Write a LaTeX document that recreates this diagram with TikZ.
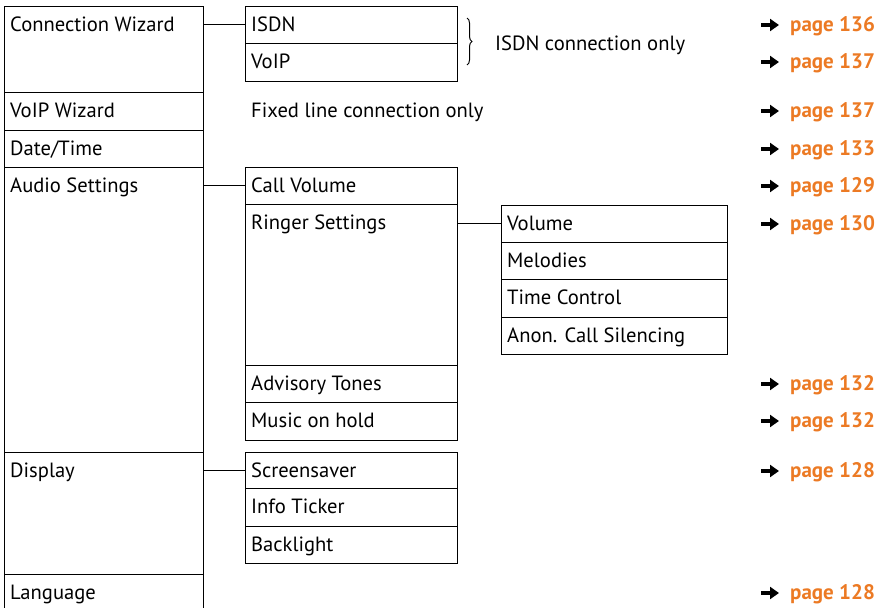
\documentclass[tikz,border=0pt]{standalone}
\usepackage{fontspec}
\setmainfont{PT Sans}
\usetikzlibrary{arrows.meta,decorations.pathreplacing,calc}
\definecolor{pageorange}{RGB}{236,122,36}
\newcommand\mcell[6]{%
  \node[box, minimum width=#4pt, minimum height=#5pt] (#1) at (#2,-#3) {};
  \node[txt] (#1-t) at ([xshift=6pt,yshift=-25pt]#1.north west) {#6};}
\newcommand\pref[3]{%
  \node[pg] (#1) at (790,0 |- #2-t.base) {page #3};
  \coordinate (#1-a) at ($(#1.base west)+(-29,6)$);
  \coordinate (#1-b) at ($(#1.base west)+(-11,6)$);
  \draw[refarrow] (#1-a) -- (#1-b);}
\begin{document}
\begin{tikzpicture}[x=1pt,y=1pt,
  box/.style={draw, line width=1pt, rectangle, inner sep=0pt, outer sep=0pt, anchor=north west},
  txt/.style={anchor=base west, inner sep=0pt, font=\fontsize{20.6}{24}\selectfont},
  pg/.style={anchor=base west, inner sep=0pt, text=pageorange, font=\fontsize{21}{24}\selectfont\bfseries},
  link/.style={line width=1pt},
  refarrow/.style={line width=4pt, -{Triangle[length=9pt,width=12pt]}}]
\useasboundingbox (0,0) rectangle (887,-608);
% main column
\mcell{cw}{4}{6}{199}{86}{Connection Wizard}
\mcell{vw}{4}{92}{199}{38}{VoIP Wizard}
\mcell{dt}{4}{130}{199}{37}{Date/Time}
\mcell{as}{4}{167}{199}{285}{Audio Settings}
\mcell{di}{4}{452}{199}{122}{Display}
\mcell{la}{4}{574}{199}{37}{Language}
% second column
\mcell{isdn}{245}{6}{212}{37}{ISDN}
\mcell{voip}{245}{43}{212}{38}{VoIP}
\mcell{cv}{245}{167}{212}{37}{Call Volume}
\mcell{rs}{245}{204}{212}{161}{Ringer Settings}
\mcell{at}{245}{365}{212}{37}{Advisory Tones}
\mcell{mh}{245}{402}{212}{38}{Music on hold}
\mcell{ss}{245}{452}{212}{36}{Screensaver}
\mcell{it}{245}{488}{212}{38}{Info Ticker}
\mcell{bl}{245}{526}{212}{37}{Backlight}
% third column
\mcell{vo}{501}{205}{226}{37}{Volume}
\mcell{me}{501}{242}{226}{37}{Melodies}
\mcell{tc}{501}{279}{226}{38}{Time Control}
\mcell{an}{501}{317}{226}{37}{Anon. Call Silencing}
% connectors
\draw[link] (isdn.west -| cw.east) -- (isdn.west);
\draw[link] (cv.west -| as.east) -- (cv.west);
\draw[link] (ss.west -| di.east) -- (ss.west);
\draw[link] (vo.west -| rs.east) -- (vo.west);
% notes
\coordinate (bra) at (467,-18);
\coordinate (brb) at (467,-65);
\draw[line width=1pt, decorate, decoration={brace, amplitude=5pt}] (bra) -- (brb);
\node[txt] (isdnonly) at (495,-50) {ISDN connection only};
\node[txt] (fixedonly) at (251,0 |- vw-t.base) {Fixed line connection only};
% page references
\pref{p1}{isdn}{136}
\pref{p2}{voip}{137}
\pref{p3}{vw}{137}
\pref{p4}{dt}{133}
\pref{p5}{cv}{129}
\pref{p6}{vo}{130}
\pref{p7}{at}{132}
\pref{p8}{mh}{132}
\pref{p9}{ss}{128}
\pref{p10}{la}{128}
\end{tikzpicture}
\end{document}
